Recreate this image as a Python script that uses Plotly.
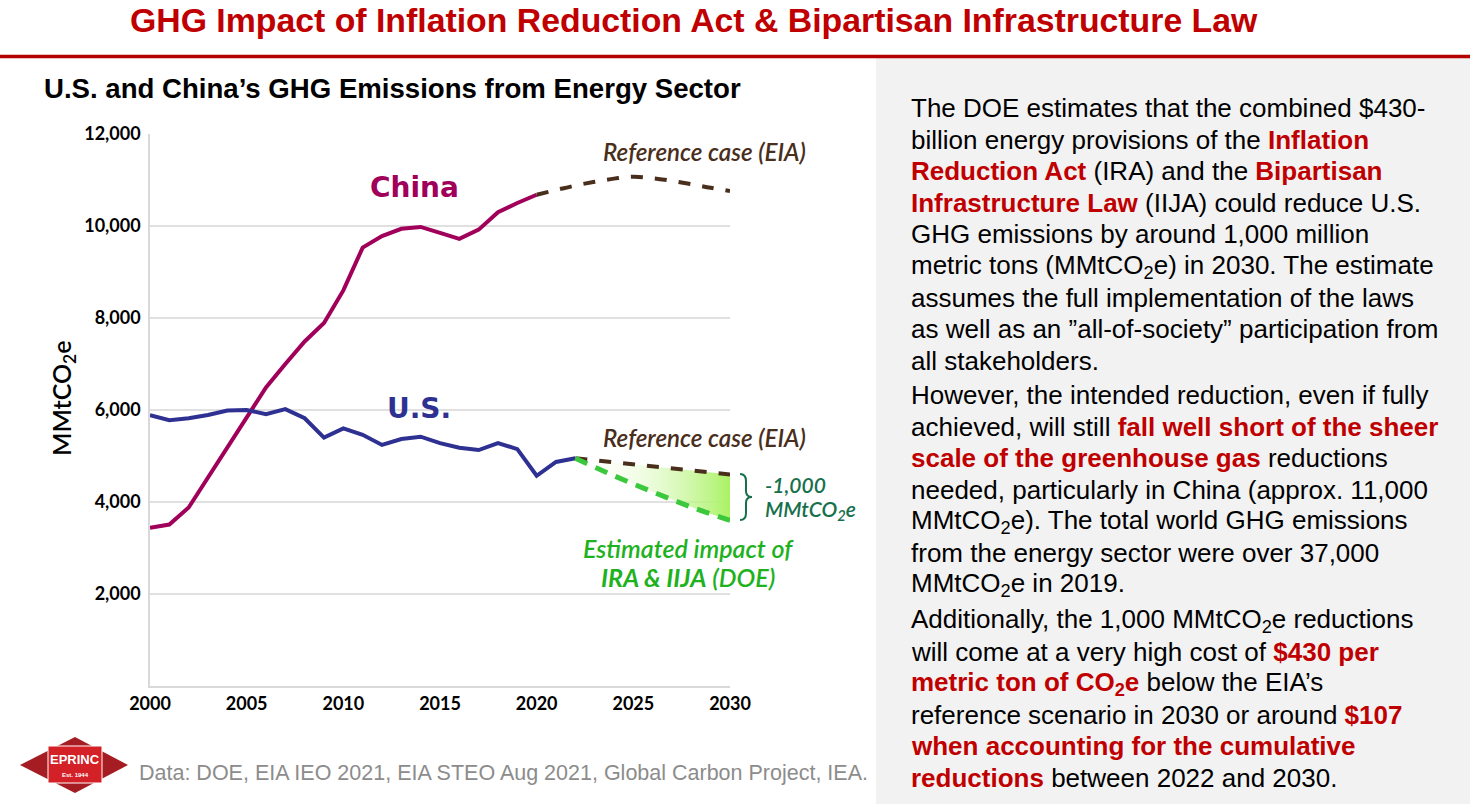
import plotly.graph_objects as go

W, H = 1470, 804

# data (MMtCO2e)
years_hist = list(range(2000, 2021))
china_hist = [3440, 3510, 3880, 4530, 5180, 5840, 6490, 7000, 7490, 7890, 8600,
              9530, 9780, 9940, 9980, 9850, 9720, 9920, 10300, 10500, 10680]
years_us = list(range(2000, 2023))
us_hist = [5890, 5780, 5820, 5890, 5990, 6000, 5910, 6020, 5820, 5400, 5600,
           5460, 5240, 5370, 5420, 5280, 5180, 5130, 5280, 5150, 4570, 4870, 4950]

years_china_ref = list(range(2020, 2031))
china_ref = [10680, 10780, 10880, 10960, 11030, 11070, 11040, 10980, 10910, 10830, 10760]

years_proj = [2022, 2024, 2026, 2028, 2030]
us_ref = [4950, 4860, 4770, 4680, 4600]
us_ira = [4950, 4570, 4220, 3890, 3600]

x_ticks = [2000, 2005, 2010, 2015, 2020, 2025, 2030]
y_ticks = [2000, 4000, 6000, 8000, 10000, 12000]

CHINA = "#a0005a"
US = "#2e3192"
BROWN = "#4a2e1c"
GREEN = "#3cc83c"
RED = "#c00000"


def px(x):
    return x / W


def py(y):
    return 1 - y / H


fig = go.Figure()

# gradient area between reference and IRA case
fig.add_trace(go.Scatter(
    x=years_proj + years_proj[::-1],
    y=us_ref + us_ira[::-1],
    fill="toself",
    mode="lines",
    line=dict(width=0),
    fillgradient=dict(type="horizontal",
                      colorscale=[[0, "rgba(255,255,255,0)"], [1, "rgba(170,242,100,1)"]]),
    hoverinfo="skip",
    showlegend=False,
))

fig.add_trace(go.Scatter(x=years_hist, y=china_hist, mode="lines",
                         line=dict(color=CHINA, width=4), name="China"))
fig.add_trace(go.Scatter(x=years_us, y=us_hist, mode="lines",
                         line=dict(color=US, width=4), name="U.S."))
fig.add_trace(go.Scatter(x=years_china_ref, y=china_ref, mode="lines",
                         line=dict(color=BROWN, width=4, dash="12px,12px", shape="spline"),
                         name="China reference"))
fig.add_trace(go.Scatter(x=years_proj, y=us_ref, mode="lines",
                         line=dict(color=BROWN, width=4, dash="12px,12px"),
                         name="U.S. reference"))
fig.add_trace(go.Scatter(x=years_proj, y=us_ira, mode="lines",
                         line=dict(color=GREEN, width=5, dash="13px,9px", shape="spline"),
                         name="IRA & IIJA"))

annotations = []


def note(x, y, text, size, color="black", family="Lato", xanchor="center", **kw):
    annotations.append(dict(
        xref="paper", yref="paper", x=px(x), y=py(y), text=text, showarrow=False,
        xanchor=xanchor, yanchor=kw.pop("yanchor", "middle"),
        font=dict(family=family, size=size, color=color, weight=kw.pop("weight", None)),
        **kw))


# header
note(694, 20, "<b>GHG Impact of Inflation Reduction Act &amp; Bipartisan Infrastructure Law</b>",
     33.8, RED, "Liberation Sans")
note(42, 89, "<b>U.S. and China’s GHG Emissions from Energy Sector</b>", 27.6, "black",
     "Liberation Sans", xanchor="left")

# chart labels
note(414, 188, "<b>China</b>", 28, CHINA, "DejaVu Sans")
note(419, 408, "<b>U.S.</b>", 28, US, "DejaVu Sans")
note(704, 151, "<i>Reference case (EIA)</i>", 24.2, BROWN, weight=600)
note(704, 437, "<i>Reference case (EIA)</i>", 24.2, BROWN, weight=600)
note(763, 485, "<i>-1,000</i>", 21, "#17704c", xanchor="left", weight=600)
note(763, 510, "<i>MMtCO<sub>2</sub>e</i>", 21, "#17704c", xanchor="left", weight=600)
note(688, 548, "<i>Estimated impact of</i>", 25, "#1fb21f", weight=600)
note(688, 577, "<i><b>IRA &amp; IIJA</b> (DOE)</i>", 25, "#1fb21f", weight=600)
note(63, 399, "MMtCO<sub>2</sub>e", 25, "black", textangle=-90, weight=600)

# footer
note(137, 773, "Data: DOE, EIA IEO 2021, EIA STEO Aug 2021, Global Carbon Project, IEA.",
     21.5, "#8c8c8c", "Liberation Sans", xanchor="left")
note(75, 759, "<b>EPRINC</b>", 13, "white", "Liberation Sans")
note(75, 775, "<b>Est. 1944</b>", 6, "white", "Liberation Sans")


def red(t):
    return f"<span style='color:{RED}'><b>{t}</b></span>"


para1 = [
    "The DOE estimates that the combined $430-",
    "billion energy provisions of the " + red("Inflation"),
    red("Reduction Act") + " (IRA) and the " + red("Bipartisan"),
    red("Infrastructure Law") + " (IIJA) could reduce U.S.",
    "GHG emissions by around 1,000 million",
    "metric tons (MMtCO<sub>2</sub>e) in 2030. The estimate",
    "assumes the full implementation of the laws",
    "as well as an ”all-of-society” participation from",
    "all stakeholders.",
]
para2 = [
    "However, the intended reduction, even if fully",
    "achieved, will still " + red("fall well short of the sheer"),
    red("scale of the greenhouse gas") + " reductions",
    "needed, particularly in China (approx. 11,000",
    "MMtCO<sub>2</sub>e). The total world GHG emissions",
    "from the energy sector were over 37,000",
    "MMtCO<sub>2</sub>e in 2019.",
]
para3 = [
    "Additionally, the 1,000 MMtCO<sub>2</sub>e reductions",
    "will come at a very high cost of " + red("$430 per"),
    red("metric ton of CO<sub>2</sub>e") + " below the EIA’s",
    "reference scenario in 2030 or around " + red("$107"),
    red("when accounting for the cumulative"),
    red("reductions") + " between 2022 and 2030.",
]
for start, lines in [(108, para1), (395, para2), (620, para3)]:
    for i, line in enumerate(lines):
        note(909, start + i * 31.6, line, 26, "black", "Liberation Sans", xanchor="left")

# brace next to -1,000
bx = [(740, 474), (746, 474), (746, 481), (746, 491), (746, 497), (752, 497),
      (746, 497), (746, 503), (746, 513), (746, 520), (740, 520)]
b = [f"{px(x):.5f},{py(y):.5f}" for x, y in bx]
brace = (f"M {b[0]} Q {b[1]} {b[2]} L {b[3]} Q {b[4]} {b[5]} "
         f"Q {b[6]} {b[7]} L {b[8]} Q {b[9]} {b[10]}")


def poly(points):
    return "M " + " L ".join(f"{px(x):.5f},{py(y):.5f}" for x, y in points) + " Z"


shapes = [
    # right grey panel
    dict(type="rect", xref="paper", yref="paper", x0=px(876), x1=1, y0=0, y1=py(58),
         fillcolor="#f2f2f2", line_width=0, layer="below"),
    # header rule
    dict(type="line", xref="paper", yref="paper", x0=0, x1=1, y0=py(56.5), y1=py(56.5),
         line=dict(color="#b50000", width=3.5)),
    dict(type="path", xref="paper", yref="paper", path=brace,
         line=dict(color="#17704c", width=2)),
    # logo
    dict(type="path", xref="paper", yref="paper",
         path=poly([(20, 765), (75, 737), (128, 765), (75, 793)]),
         fillcolor="#a51c22", line_width=0),
    dict(type="rect", xref="paper", yref="paper", x0=px(48), x1=px(102), y0=py(783), y1=py(746),
         fillcolor="#d42027", line=dict(color="white", width=1)),
]

fig.update_layout(
    width=W,
    height=H,
    margin=dict(l=0, r=0, t=0, b=0, autoexpand=False),
    paper_bgcolor="white",
    plot_bgcolor="white",
    showlegend=False,
    annotations=annotations,
    shapes=shapes,
    xaxis=dict(
        domain=[px(150), px(730)], range=[2000, 2030], tickvals=x_ticks,
        showgrid=False, showline=True, linecolor="#d9d9d9", linewidth=1.5,
        ticks="", ticklabelstandoff=1, zeroline=False, automargin=False,
        tickfont=dict(family="Lato", size=18, color="black", weight=700),
    ),
    yaxis=dict(
        domain=[py(686), py(134)], range=[0, 12000], tickvals=y_ticks,
        tickformat=",", showgrid=True, gridcolor="#e0e0e0", gridwidth=1.5,
        showline=True, linecolor="#d9d9d9", linewidth=1.5, zeroline=False,
        ticks="", ticklabelstandoff=4, automargin=False,
        tickfont=dict(family="Lato", size=18, color="black", weight=700),
    ),
)

fig.write_html("out.html", config={"displayModeBar": False},
               post_script="document.body.style.margin='0';document.body.style.overflow='hidden';")
